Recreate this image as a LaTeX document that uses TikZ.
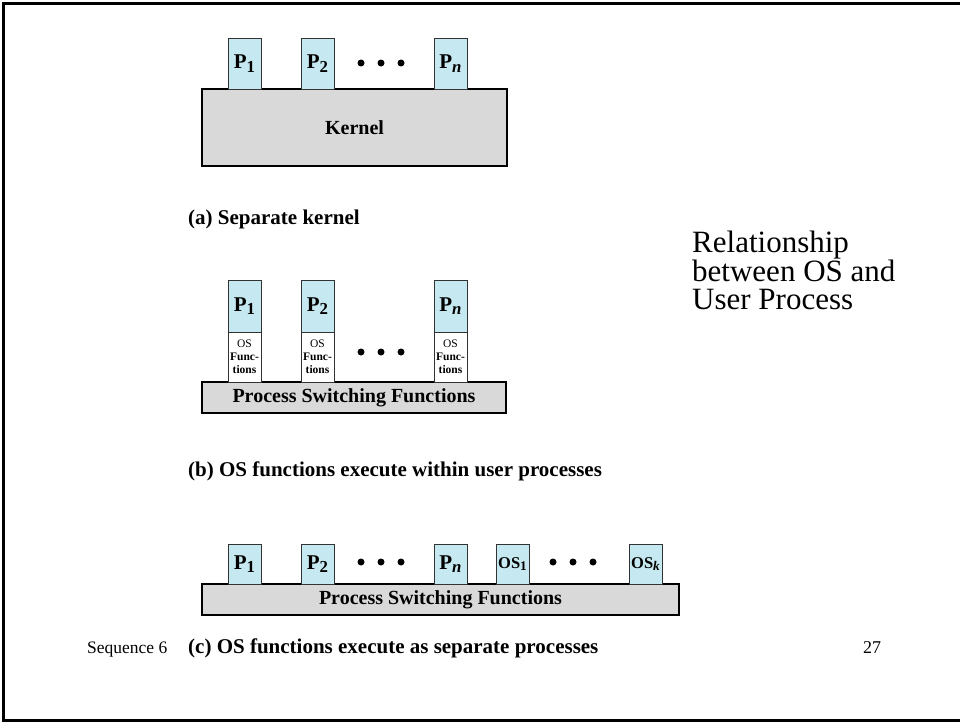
\documentclass[tikz,border=0pt]{standalone}
\usepackage{fontspec}
\setmainfont{Liberation Serif}
\definecolor{pblue}{HTML}{C6E8F0}
\definecolor{kgray}{HTML}{D9D9D9}
\newcommand{\Psub}[2]{\textbf{#1}\raisebox{-0.35ex}{\fontsize{0.8em}{1em}\selectfont\textbf{#2}}}
\begin{document}
\begin{tikzpicture}[x=1pt,y=-1pt,
  proc/.style={draw=black!80, line width=0.9pt, fill=pblue, inner sep=0pt, minimum width=33pt},
  osf/.style={draw=black!80, line width=0.9pt, fill=white, inner sep=0pt, minimum width=33pt, minimum height=50pt, align=center, font=\fontsize{11.5}{13}\selectfont\bfseries},
  basebox/.style={draw=black, line width=2.8pt, fill=kgray, inner sep=0pt, font=\fontsize{20}{24}\selectfont\bfseries},
  plabel/.style={font=\fontsize{21}{24}\selectfont},
  dotc/.style={circle, fill=black, inner sep=0pt, minimum size=7pt},
  caption/.style={anchor=base west, inner sep=0pt, font=\fontsize{21}{24}\selectfont\bfseries},
  title/.style={anchor=base west, inner sep=0pt, font=\fontsize{31}{34}\selectfont}
]
\useasboundingbox (0,0) rectangle (960,723);
\draw[line width=3pt] (960,3) -- (3,3) -- (3,720) -- (960,720);

% (a)
\node[basebox, minimum width=305pt, minimum height=77pt] (kernel) at (354.5,127.5) {Kernel};
\node[proc, minimum height=51pt, plabel] (a1) at (244.5,63.5) {\Psub{P}{1}};
\node[proc, minimum height=51pt, plabel] (a2) at (317.5,63.5) {\Psub{P}{2}};
\node[proc, minimum height=51pt, plabel] (an) at (450.5,63.5) {\Psub{P}{\itshape n}};
\node[dotc] (ad1) at (361,63) {};
\node[dotc] (ad2) at (381,63) {};
\node[dotc] (ad3) at (401,63) {};
\node[caption] (capa) at (188,224) {(a) Separate kernel};

% (b)
\node[basebox, minimum width=304pt, minimum height=31pt] (psfb) at (354,397.5) {Process Switching Functions};
\node[proc, minimum height=52pt, plabel] (b1) at (244.5,306) {\Psub{P}{1}};
\node[proc, minimum height=52pt, plabel] (b2) at (317.5,306) {\Psub{P}{2}};
\node[proc, minimum height=52pt, plabel] (bn) at (450.5,306) {\Psub{P}{\itshape n}};
\node[osf] (o1) at (244.5,357) {\mdseries OS\\Func-\\tions};
\node[osf] (o2) at (317.5,357) {\mdseries OS\\Func-\\tions};
\node[osf] (on) at (450.5,357) {\mdseries OS\\Func-\\tions};
\node[dotc] (bd1) at (361,352) {};
\node[dotc] (bd2) at (381,352) {};
\node[dotc] (bd3) at (401,352) {};
\node[caption] (capb) at (188,476) {(b) OS functions execute within user processes};

% (c)
\node[basebox, minimum width=477pt, minimum height=31pt] (psfc) at (440.5,599.5) {Process Switching Functions};
\node[proc, minimum height=40pt, plabel] (c1) at (244.5,564) {\Psub{P}{1}};
\node[proc, minimum height=40pt, plabel] (c2) at (317.5,564) {\Psub{P}{2}};
\node[proc, minimum height=40pt, plabel] (cn) at (450.5,564) {\Psub{P}{\itshape n}};
\node[proc, minimum height=40pt, font=\fontsize{16.5}{20}\selectfont] (os1) at (512.5,564) {\Psub{OS}{1}};
\node[proc, minimum height=40pt, font=\fontsize{16.5}{20}\selectfont] (osk) at (645.5,564) {\Psub{OS}{\itshape k}};
\node[dotc] (cd1) at (361,562) {};
\node[dotc] (cd2) at (381,562) {};
\node[dotc] (cd3) at (401,562) {};
\node[dotc] (cd4) at (553,562) {};
\node[dotc] (cd5) at (573,562) {};
\node[dotc] (cd6) at (593,562) {};
\node[caption] (capc) at (188,653) {(c) OS functions execute as separate processes};

% footer
\node[anchor=base west, inner sep=0pt, font=\fontsize{17.5}{20}\selectfont] (seq) at (87,653) {Sequence 6};
\node[anchor=base west, inner sep=0pt, font=\fontsize{18}{20}\selectfont] (pg) at (863,653) {27};

% title
\node[title] (t1) at (692,252) {Relationship};
\node[title] (t2) at (692,281) {between OS and};
\node[title] (t3) at (692,309) {User Process};
\end{tikzpicture}
\end{document}
